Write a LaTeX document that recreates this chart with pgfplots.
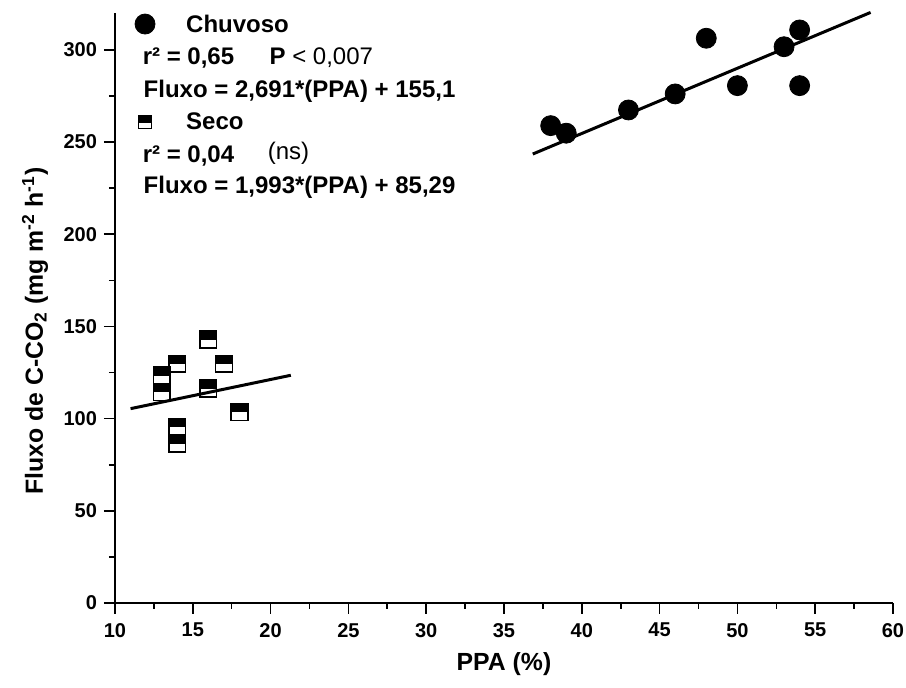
\documentclass[border=0pt]{standalone}
\usepackage{fontspec}
\setmainfont{Liberation Sans}
\usepackage{pgfplots}
\pgfplotsset{compat=1.18}
\pgfdeclareplotmark{halfsq}{%
  \pgfpathrectangle{\pgfpoint{-\pgfplotmarksize}{-0.05\pgfplotmarksize}}{\pgfpoint{2\pgfplotmarksize}{1.05\pgfplotmarksize}}%
  \pgfusepath{fill}%
  \pgfpathrectangle{\pgfpoint{-\pgfplotmarksize}{-\pgfplotmarksize}}{\pgfpoint{2\pgfplotmarksize}{2\pgfplotmarksize}}%
  \pgfusepath{stroke}%
}
\begin{document}
\begin{tikzpicture}
\begin{axis}[
  scale only axis, width=389pt, height=295pt,
  xmin=10, xmax=60, ymin=0, ymax=320,
  axis x line=bottom, axis y line=left,
  axis line style={-, line width=1pt},
  xtick={10,15,...,60}, ytick={0,50,...,300},
  minor x tick num=1, minor y tick num=1,
  tick align=outside, major tick length=5.5pt, minor tick length=3pt,
  tick style={line width=0.8pt, black},
  /pgf/number format/assume math mode=true,
  ticklabel style={font=\fontsize{10}{12}\selectfont\bfseries},
  xticklabel style={yshift=-1pt},
  label style={font=\fontsize{12.4}{14}\selectfont\bfseries},
  xlabel={PPA (\%)},
  ylabel={Fluxo de C-CO\textsubscript{2} (mg m\textsuperscript{-2} h\textsuperscript{-1})},
  xlabel style={at={(axis description cs:0.5,-0.1040)}, anchor=center},
  ylabel style={at={(axis description cs:-0.1028,0.461)}, anchor=center},
  clip=false,
]
% Chuvoso
\addplot[only marks, mark=*, mark size=5pt, mark options={fill=black, draw=black}] coordinates {
(38,258.9) (39,254.8) (43,267.4) (46,276.1) (48,306.3) (50,280.6) (53,301.7) (54,310.8) (54,280.6)
};
\addplot[line width=1.5pt, black] coordinates {(36.85,243.5) (58.56,320.3)};
% Seco
\addplot[only marks, mark=halfsq, mark size=4.2pt, mark options={fill=black, draw=black, line width=0.7pt}] coordinates {
(13,123.5) (13,114.5) (14,129.8) (14,95.5) (14,86.5) (16,142.9) (16,116.3) (17,129.8) (18,103.6)
};
\addplot[line width=1.5pt, black] coordinates {(11.0,105.4) (21.3,123.5)};
% legend markers
\addplot[only marks, mark=*, mark size=5pt, mark options={fill=black, draw=black}] coordinates {(11.93,314)};
\addplot[only marks, mark=halfsq, mark size=3.2pt, mark options={fill=black, draw=black, line width=0.6pt}] coordinates {(11.93,260.7)};
% legend texts
\begin{scope}[every node/.style={anchor=base west, inner sep=0pt, font=\fontsize{12}{14}\selectfont\bfseries}]
\node at (axis cs:14.55,309.5) {Chuvoso};
\node at (axis cs:11.76,292.3) {r² = 0,65};
\node at (axis cs:19.91,292.3) {P \mdseries< 0,007};
\node at (axis cs:11.82,274.3) {Fluxo = 2,691*(PPA) + 155,1};
\node at (axis cs:14.55,256.6) {Seco};
\node at (axis cs:11.76,239.1) {r² = 0,04};
\node at (axis cs:19.8,240.4) {\mdseries (ns)};
\node at (axis cs:11.82,221.9) {Fluxo = 1,993*(PPA) + 85,29};
\end{scope}
\end{axis}
\pgfresetboundingbox
\path[use as bounding box] (-57.5pt,-42.5pt) rectangle (395.5pt,301.5pt);
\end{tikzpicture}
\end{document}
